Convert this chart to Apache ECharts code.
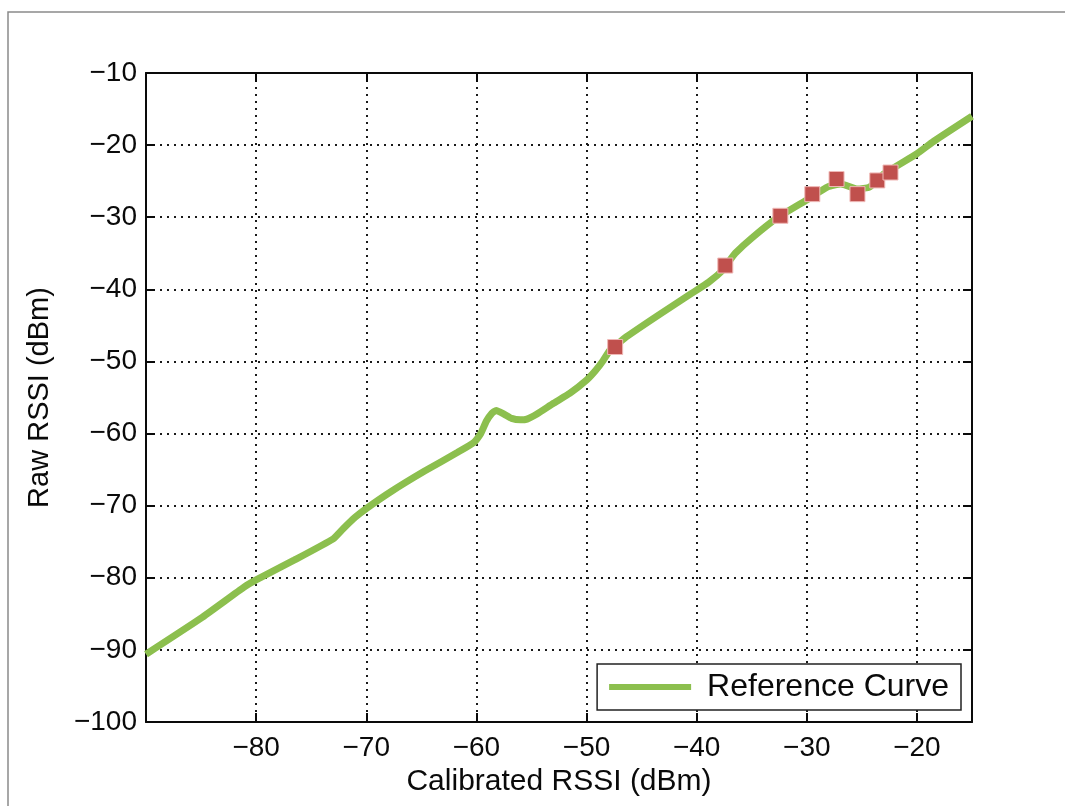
<!DOCTYPE html>
<html>
<head>
<meta charset="utf-8">
<script src="https://cdn.jsdelivr.net/npm/echarts@6/dist/echarts.min.js"></script>
<style>
  html, body { margin: 0; padding: 0; background: #fff; }
  #chart { width: 1065px; height: 806px; }
</style>
</head>
<body>
<div id="chart"></div>
<script>
// reference curve (calibrated RSSI -> raw RSSI)
const curveX = [-90, -85, -81.1, -80, -76.6, -73.0, -72.1, -71.0, -70, -67.7, -64.7, -61.7, -60.2,
  -59.6, -59.1, -58.6, -58.2, -57.5, -56.8, -56.0, -55.4, -54.5, -53.0, -51.5, -50, -49.2, -48.5,
  -47.9, -47.2, -46.4, -43.4, -40.5, -38.9, -37.6, -37.0, -36.5, -35.0, -32.6, -30.0, -28.1,
  -26.9, -25.4, -24.3, -23.0, -20, -18.5, -15];
const curveY = [-90.6, -85.6, -81.3, -80.3, -77.6, -74.6, -73.2, -71.6, -70.4, -68.0, -65.2, -62.6, -61.2,
  -60.0, -58.3, -57.2, -56.8, -57.3, -57.9, -58.1, -58.0, -57.3, -55.8, -54.4, -52.6, -51.3, -49.9,
  -48.5, -47.6, -46.6, -43.5, -40.6, -39.0, -37.3, -36.0, -35.0, -32.9, -30.0, -27.6, -25.8,
  -25.4, -26.1, -25.8, -24.0, -21.2, -19.5, -16.0];

// measured points
const markerX = [-47.4, -37.4, -32.4, -29.5, -27.3, -25.4, -23.6, -22.4];
const markerY = [-48.0, -36.7, -29.8, -26.8, -24.7, -26.8, -24.9, -23.8];

const xTicks = { min: -90, max: -15, step: 10 };
const yTicks = { min: -100, max: -10, step: 10 };

const font = "'Liberation Sans', Arial, sans-serif";
const ink = '#0a0a0a';
const minus = v => (v < 0 ? '\u2212' + Math.abs(v) : String(v));

const gridLine = {
  show: true,
  lineStyle: { color: '#1a1a1a', width: 2, type: [2, 5] }
};

const chart = echarts.init(document.getElementById('chart'));
chart.setOption({
  animation: false,
  backgroundColor: '#fff',
  graphic: [{
    type: 'rect',
    shape: { x: 8, y: 12, width: 1100, height: 900 },
    style: { fill: 'none', stroke: '#8a8a8a', lineWidth: 1.5 },
    silent: true
  }],
  grid: { left: 146, right: 93, top: 73, bottom: 84 },
  legend: {
    data: ['Reference Curve'],
    right: 104,
    top: 664,
    icon: 'rect',
    itemWidth: 82,
    itemHeight: 6,
    padding: [7, 12, 7, 12],
    borderColor: '#222',
    borderWidth: 1.5,
    backgroundColor: '#fff',
    textStyle: { fontFamily: font, fontSize: 32, color: ink, padding: [0, 0, 0, 11] }
  },
  xAxis: [{
    type: 'value',
    min: xTicks.min, max: xTicks.max, interval: xTicks.step,
    name: 'Calibrated RSSI (dBm)',
    nameLocation: 'middle',
    nameGap: 45,
    nameTextStyle: { fontFamily: font, fontSize: 30, color: ink },
    axisLine: { show: true, onZero: false, lineStyle: { color: ink, width: 2 } },
    axisTick: { show: true, inside: true, length: 9, lineStyle: { color: ink, width: 2 } },
    axisLabel: {
      fontFamily: font, fontSize: 28, color: ink, margin: 12,
      showMinLabel: false, showMaxLabel: false, formatter: minus
    },
    splitLine: gridLine
  }, {
    type: 'value', position: 'top',
    min: xTicks.min, max: xTicks.max, interval: xTicks.step,
    axisLine: { show: true, onZero: false, lineStyle: { color: ink, width: 2 } },
    axisTick: { show: true, inside: true, length: 9, lineStyle: { color: ink, width: 2 } },
    axisLabel: { show: false },
    splitLine: { show: false }
  }],
  yAxis: [{
    type: 'value',
    min: yTicks.min, max: yTicks.max, interval: yTicks.step,
    name: 'Raw RSSI (dBm)',
    nameLocation: 'middle',
    nameGap: 92,
    nameTextStyle: { fontFamily: font, fontSize: 29, color: ink },
    axisLine: { show: true, onZero: false, lineStyle: { color: ink, width: 2 } },
    axisTick: { show: true, inside: true, length: 9, lineStyle: { color: ink, width: 2 } },
    axisLabel: { fontFamily: font, fontSize: 28, color: ink, margin: 9, formatter: minus },
    splitLine: gridLine
  }, {
    type: 'value', position: 'right',
    min: yTicks.min, max: yTicks.max, interval: yTicks.step,
    axisLine: { show: true, onZero: false, lineStyle: { color: ink, width: 2 } },
    axisTick: { show: true, inside: true, length: 9, lineStyle: { color: ink, width: 2 } },
    axisLabel: { show: false },
    splitLine: { show: false }
  }],
  series: [{
    name: 'Reference Curve',
    type: 'line',
    data: curveX.map((x, i) => [x, curveY[i]]),
    showSymbol: false,
    symbol: 'none',
    smooth: 0.15,
    clip: true,
    itemStyle: { color: '#8CBF4E' },
    lineStyle: { color: '#8CBF4E', width: 7 },
    z: 3
  }, {
    name: 'Measured',
    type: 'scatter',
    data: markerX.map((x, i) => [x, markerY[i]]),
    symbol: 'rect',
    symbolSize: 15,
    itemStyle: { color: '#C0504D', borderColor: '#EFB8B6', borderWidth: 1, opacity: 1 },
    z: 4
  }]
});
</script>
</body>
</html>
